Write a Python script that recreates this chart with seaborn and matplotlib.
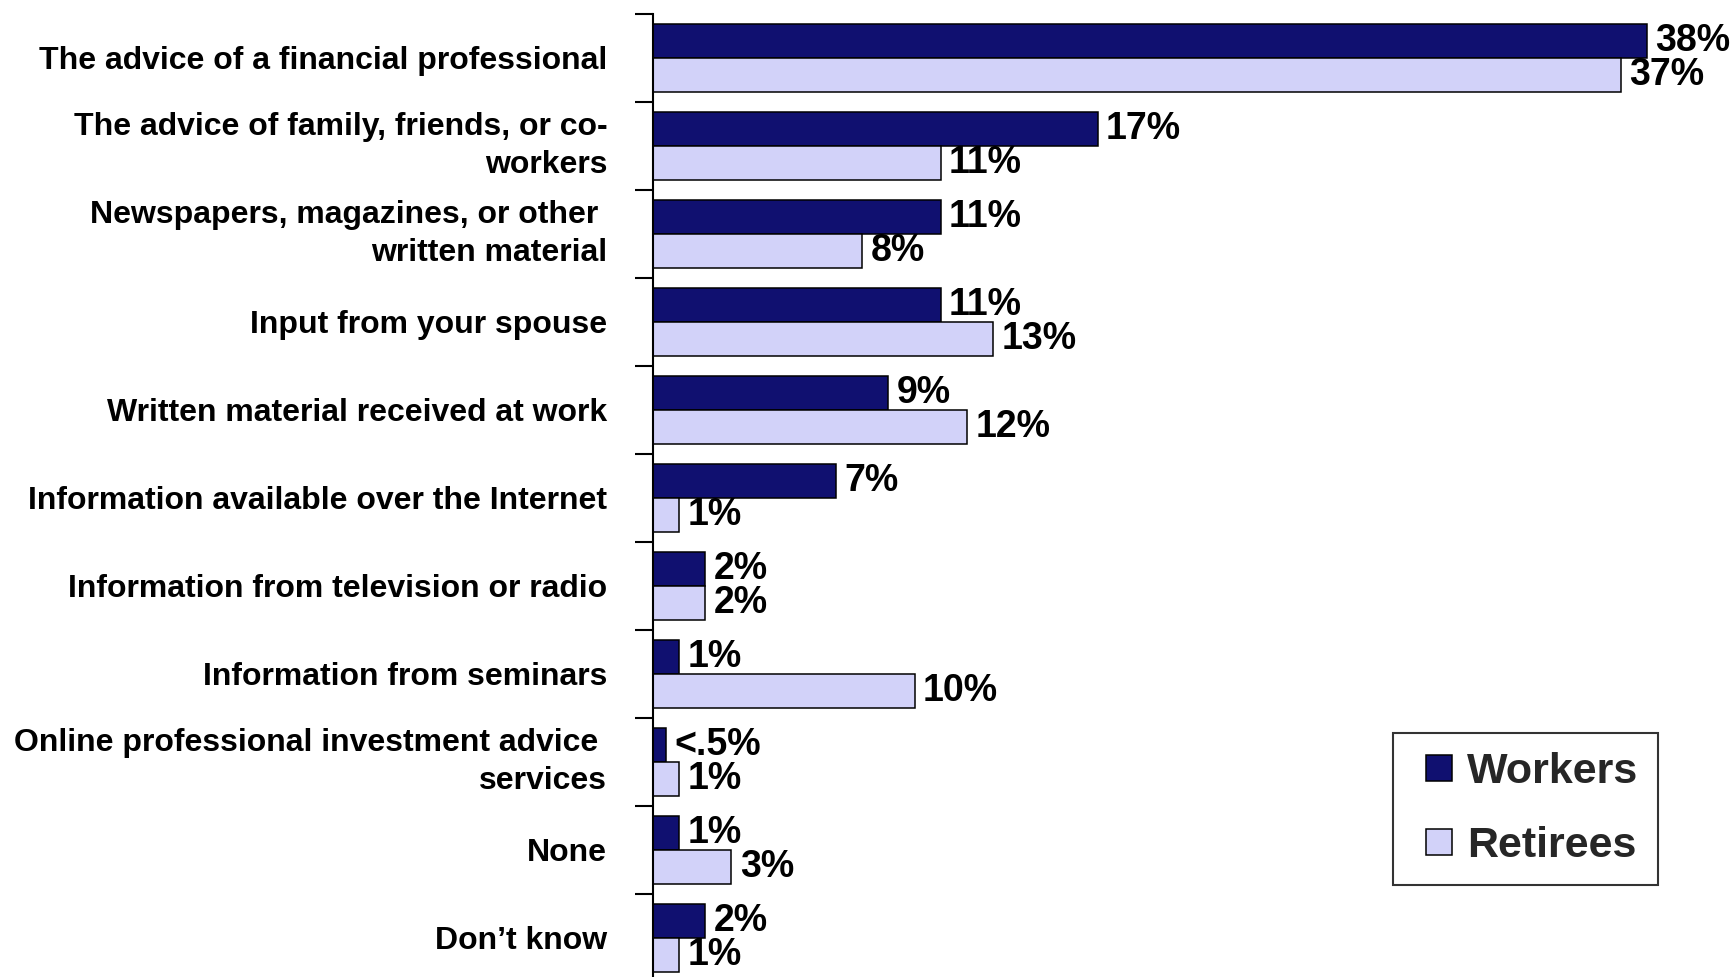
import matplotlib
matplotlib.use("Agg")
import matplotlib.pyplot as plt
import matplotlib.transforms as mtransforms
from matplotlib.patches import Rectangle
from matplotlib.legend_handler import HandlerPatch
import numpy as np
import pandas as pd
import seaborn as sns

# Survey answers: sources of retirement investment information
categories = [
    "The advice of a financial professional",
    "The advice of family, friends, or co-\nworkers",
    "Newspapers, magazines, or other \nwritten material",
    "Input from your spouse",
    "Written material received at work",
    "Information available over the Internet",
    "Information from television or radio",
    "Information from seminars",
    "Online professional investment advice \nservices",
    "None",
    "Don\u2019t know",
]
workers = [38, 17, 11, 11, 9, 7, 2, 1, 0.5, 1, 2]
retirees = [37, 11, 8, 13, 12, 1, 2, 10, 1, 3, 1]
workers_labels = ["38%", "17%", "11%", "11%", "9%", "7%", "2%", "1%", "<.5%", "1%", "2%"]
retirees_labels = ["37%", "11%", "8%", "13%", "12%", "1%", "2%", "10%", "1%", "3%", "1%"]
groups = ["Workers", "Retirees"]
colors = ["#000080", "#CCCCFF"]

df = pd.DataFrame({
    "category": categories * 2,
    "share": workers + retirees,
    "group": [groups[0]] * len(categories) + [groups[1]] * len(categories),
})

sns.set_theme(style="white")
plt.rcParams["font.family"] = ["Liberation Sans", "DejaVu Sans"]
plt.rcParams["font.weight"] = "bold"

fig = plt.figure(figsize=(17.36, 9.77), dpi=100)
fig.patch.set_facecolor("white")
W, H = 1736, 977
ax = fig.add_axes([653 / W, 1 - 982 / H, (W - 653) / W, 968 / H])
ax.set_facecolor("white")

sns.barplot(
    data=df, y="category", x="share", hue="group", orient="h",
    palette=colors, hue_order=groups, order=categories,
    edgecolor="black", linewidth=1.1, width=0.77, gap=0,
    errorbar=None, ax=ax,
)

for container, labels in zip(ax.containers, [workers_labels, retirees_labels]):
    ax.bar_label(container, labels=labels, padding=6, fontsize=27,
                 fontweight="bold", color="black", clip_on=False)

ax.set_xlim(0, (W - 653) / 26.16)
ax.set_ylim(len(categories) - 0.5, -0.5)
ax.set_xlabel("")
ax.set_ylabel("")
ax.set_xticks([])

# category names at group centres, tick marks on group boundaries
ax.set_yticks(np.arange(len(categories)))
ax.set_yticklabels(categories, fontsize=23, fontweight="bold",
                   color="black", linespacing=1.35)
shift_down = mtransforms.ScaledTranslation(0, -2.5 / 72, fig.dpi_scale_trans)
for lbl in ax.get_yticklabels():
    if "\n" in lbl.get_text():
        lbl.set_verticalalignment("center")
        lbl.set_transform(lbl.get_transform() + shift_down)
ax.tick_params(axis="y", which="major", length=0, pad=33)
ax.set_yticks(np.arange(len(categories) + 1) - 0.5, minor=True)
ax.tick_params(axis="y", which="minor", left=True, length=13, width=1.5,
               color="black", direction="out")

for side in ["top", "right", "bottom"]:
    ax.spines[side].set_visible(False)
ax.spines["left"].set_color("black")
ax.spines["left"].set_linewidth(1.5)


def square_key(legend, orig_handle, xdescent, ydescent, width, height, fontsize):
    # square swatch sitting at the right end of the handle slot
    return Rectangle((-xdescent + width - height, -ydescent), height, height)


handles, labels = ax.get_legend_handles_labels()
ax.get_legend().remove()
leg = fig.legend(
    handles, labels, loc="upper left",
    bbox_to_anchor=(1393 / W, 1 - 733 / H), bbox_transform=fig.transFigure,
    borderaxespad=0, frameon=True, fancybox=False, shadow=False,
    prop={"size": 31, "weight": "bold"},
    handlelength=0.92, handleheight=0.55, handletextpad=0.35,
    labelspacing=0.78, borderpad=0.45,
    handler_map={h: HandlerPatch(patch_func=square_key) for h in handles},
)
leg.get_frame().set_edgecolor("black")
leg.get_frame().set_linewidth(1.5)

fig.savefig("out.png", dpi=100, facecolor="white")
